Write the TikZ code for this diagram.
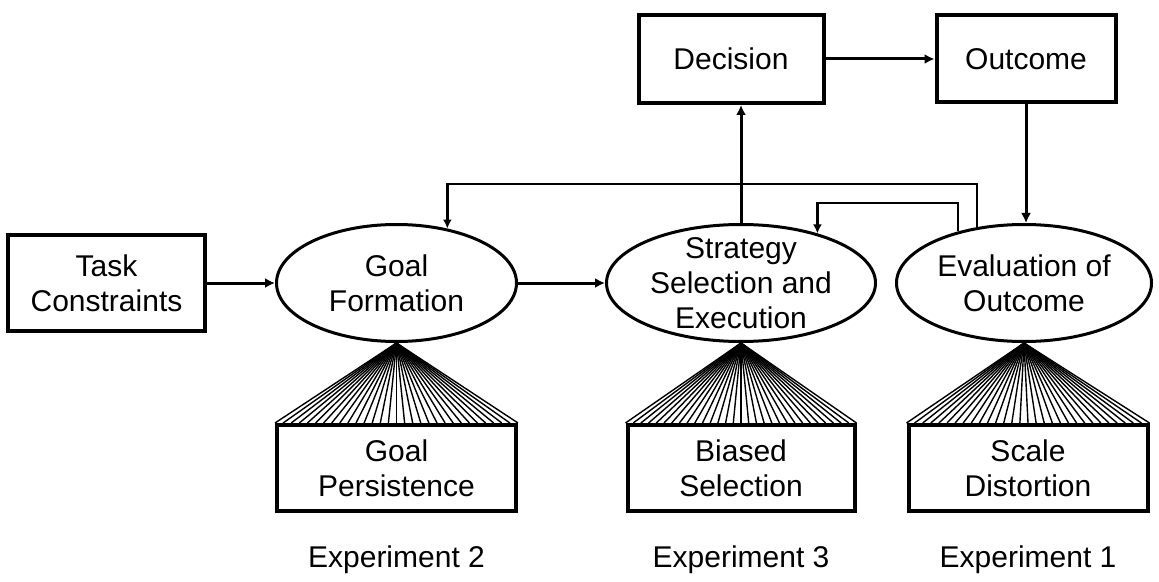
\documentclass[tikz,border=0pt]{standalone}
\usepackage{fontspec}
\setmainfont{Liberation Sans}
\usetikzlibrary{arrows.meta,positioning,calc,shapes.geometric}

\begin{document}
\begin{tikzpicture}[
  x=0.5pt,y=-0.5pt,
  font=\fontsize{15}{17.5}\selectfont,
  box/.style={draw,line width=2pt,align=center,inner sep=0pt,fill=white},
  oval/.style={draw,ellipse,line width=1.5pt,align=center,inner sep=0pt,minimum height=58.5pt,fill=white},
  arrow/.style={-{Latex[length=5pt,width=5pt]},line width=1.5pt},
  loopline/.style={-{Latex[length=4.5pt,width=4.5pt]},line width=1.2pt},
  fanline/.style={line width=0.7pt},
  explabel/.style={inner sep=0pt}
]
  \useasboundingbox (0,0) rectangle (1159,582);
  % main row
  \node[oval,minimum width=120pt] (goal) at (396.5,283) {Goal\\Formation};
  \node[box,minimum width=98.5pt,minimum height=48pt,left=34pt of goal] (task) {Task\\Constraints};
  \node[oval,minimum width=134.5pt,inner xsep=-2pt,inner ysep=-5pt,right=43.5pt of goal] (strat) {Strategy\\Selection and\\Execution};
  \node[oval,minimum width=127.5pt,right=9pt of strat] (eval) {Evaluation of\\Outcome};
  % top row
  \node[box,minimum width=92.5pt,minimum height=44pt,above=59pt of strat,xshift=-5pt] (dec) {Decision};
  \node[box,minimum width=89.5pt,minimum height=43.5pt,right=54.5pt of dec] (out) {Outcome};
  % bottom row
  \node[box,minimum width=119.5pt,minimum height=43pt,below=40pt of goal] (persist) {Goal\\Persistence};
  \node[box,minimum width=113.5pt,minimum height=43pt,below=40pt of strat] (biased) {Biased\\Selection};
  \node[box,minimum width=119.5pt,minimum height=43pt,below=40pt of eval,xshift=2pt] (scale) {Scale\\Distortion};
  \node[explabel,below=16pt of persist] (exptwo) {Experiment 2};
  \node[explabel,below=16pt of biased] (expthree) {Experiment 3};
  \node[explabel,below=16pt of scale] (expone) {Experiment 1};
  % fans
  \foreach \top/\base in {goal/persist,strat/biased,eval/scale}
    \foreach \i in {0,...,30}
      \draw[fanline] (\top.south) -- ($(\base.north west)!\i/30!(\base.north east)$);
  % connectors
  \coordinate (loopA) at (0,184);
  \coordinate (loopB) at (0,203);
  \draw[arrow] (task) -- (goal);
  \draw[arrow] (goal) -- (strat);
  \draw[arrow] (strat.north) -- (strat.north |- dec.south);
  \draw[arrow] (dec) -- (out);
  \draw[arrow] (out) -- (out |- eval.north);
  \draw[loopline] (eval.130) |- (loopA -| goal.47) -- (goal.47);
  \draw[loopline] (eval.142) |- (loopB -| strat.33) -- (strat.33);
\end{tikzpicture}
\end{document}
